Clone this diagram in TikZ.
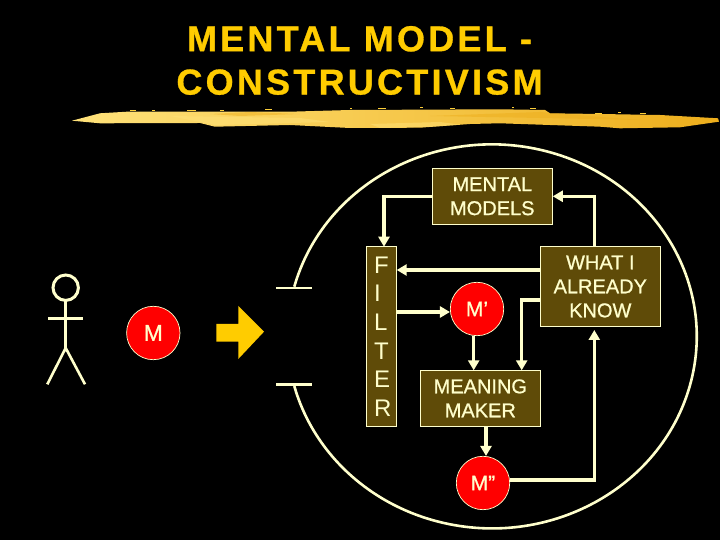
\documentclass[tikz,border=0pt]{standalone}
\usepackage{fontspec}
\setmainfont{Liberation Sans}
\newfontface\titlefont[LetterSpace=9,FakeBold=0.8]{Liberation Sans Bold}
\newfontfamily\boxfont[FakeBold=0.8]{Liberation Sans}
\usetikzlibrary{arrows.meta}
\definecolor{cream}{HTML}{FFFFCC}
\definecolor{boxbrown}{HTML}{5F4B08}
\definecolor{gold}{HTML}{FFCC00}
\definecolor{brushgold}{HTML}{FCCF3A}
\definecolor{brushlight}{HTML}{FFE27A}
\definecolor{brushdark}{HTML}{EDAE1C}
\tikzset{
    box/.style={draw=cream, line width=1pt, fill=boxbrown, text=cream, align=center, inner sep=0pt,
        font=\fontsize{20}{24}\selectfont\boxfont},
    ball/.style={circle, draw=cream, line width=0.7pt, fill=red, text=cream, inner sep=0pt,
        minimum size=53.4pt, font=\fontsize{21}{24}\selectfont\boxfont},
    link/.style={cream, line width=3.4pt, -{Triangle[length=10pt,width=11pt]}},
    thinline/.style={cream, line width=2.6pt}
}
\begin{document}
\begin{tikzpicture}[x=1pt,y=1pt]
    \fill[black] (0,0) rectangle (720,540);
    \useasboundingbox (0,0) rectangle (720,540);

    % Title
    \node[gold, align=center, font=\fontsize{36}{43.3}\selectfont\titlefont] (title) at (359.5,479.5)
        {MENTAL MODEL -\\CONSTRUCTIVISM};

    % Brush stroke under the title
    \begin{scope}
        \clip (72,419.3) -- (100,426.7) -- (127,428.3) -- (290,428.3) -- (350,430) -- (500,430.7) -- (545,430)
            -- (550,426.7) -- (600,426) -- (660,425) -- (718,421.7) -- (719,418.3) -- (680,412.7) -- (620,411.7)
            -- (600,413.3) -- (500,416.7) -- (470,416) -- (420,412.3) -- (350,412) -- (290,415) -- (215,413.3)
            -- (200,417) -- (100,416.7) -- cycle;
        \shade[left color=brushlight, middle color=brushgold, right color=brushdark] (72,405) rectangle (720,435);
        \fill[brushlight, opacity=0.5] (170,424) -- (300,422) -- (330,418) -- (215,415) -- cycle;
        \fill[brushlight, opacity=0.5] (370,416) -- (440,418) -- (470,414) -- (380,412) -- cycle;
        \fill[brushdark, opacity=0.5] (210,426) -- (240,424) -- (300,426) -- (250,428) -- cycle;
        \fill[brushdark, opacity=0.5] (430,424) -- (540,428) -- (640,420) -- (540,422) -- cycle;
    \end{scope}
    \foreach \sx/\sy/\sw in {130/428.5/6,152/428.5/3,187/429/9,220/429/4,265/430/7,350/431/2,378/431/8,
        420/431.5/3,450/431/5,512/432/2,530/431/6,595/426/7,618/426.5/3,640/426/6} {
        \fill[brushgold] (\sx,\sy) rectangle +(\sw,1);
    }

    % Person
    \draw[thinline, line width=3pt] (65.7,252.3) circle (12.7);
    \draw[thinline] (65.7,239.5) -- (65.7,192);
    \draw[thinline] (48.3,221.7) -- (83.3,221.7);
    \draw[thinline] (47.3,155.7) -- (65.7,192) -- (85,155.7);

    % Message and block arrow
    \node[ball, font=\fontsize{23}{24}\selectfont\boxfont] (m) at (153.3,207) {M};
    \fill[gold] (216.3,216) -- (238.3,216) -- (238.3,234) -- (264,208.3) -- (238.3,181) -- (238.3,198.3)
        -- (216.3,198.3) -- cycle;

    % Head outline with its opening
    \draw[thinline] (276,252) -- (311.7,252);
    \draw[thinline] (276,155.7) -- (311.7,155.7);
    \draw[thinline] (294.3,253.3) arc[start angle=165, end angle=-165, x radius=204.7, y radius=192];

    % Boxes
    \node[box, minimum width=120pt, minimum height=56pt] (mental) at (492.3,343.7) {MENTAL\\MODELS};
    \node[box, minimum width=30.4pt, minimum height=179.6pt] (filter) at (381.5,203.5) {};
    \node[box, minimum width=120pt, minimum height=79.6pt] (what) at (600.3,253.5) {WHAT I\\ALREADY\\KNOW};
    \node[box, minimum width=120pt, minimum height=56pt] (meaning) at (480.3,141.7) {MEANING\\MAKER};
    \node[ball] (m1) at (477,231) {M’};
    \node[ball] (m2) at (483,57) {M”};

    % Filter letters, one under the other
    \node[cream, align=left, inner sep=0pt, anchor=west, font=\fontsize{24}{28.7}\selectfont] (filtertext)
        at (374,203.5) {F\\I\\L\\T\\E\\R};

    % Where the links meet the boxes
    \coordinate (filterin) at (384,293.3);
    \coordinate (whattop) at (594.3,293.3);
    \coordinate (whathigh) at (540.3,270);
    \coordinate (filterhigh) at (396.7,270);
    \coordinate (filterlow) at (396.7,228);
    \coordinate (whatlow) at (540.3,240);
    \coordinate (meanleft) at (473.7,169.7);
    \coordinate (meanright) at (521.7,169.7);
    \coordinate (meanout) at (486,113.7);
    \coordinate (twoout) at (509.7,60);
    \coordinate (whatin) at (594.3,210);

    % Links
    \draw[link] (mental.west) -| (filterin);
    \draw[link] (whattop) |- (mental.east);
    \draw[link] (whathigh) -- (filterhigh);
    \draw[link] (filterlow) -- (m1.west |- filterlow);
    \draw[link] (meanleft |- m1.south) -- (meanleft);
    \draw[link] (whatlow) -| (meanright);
    \draw[link] (meanout) -- (meanout |- m2.north);
    \draw[link] (twoout) -| (whatin);
\end{tikzpicture}
\end{document}
